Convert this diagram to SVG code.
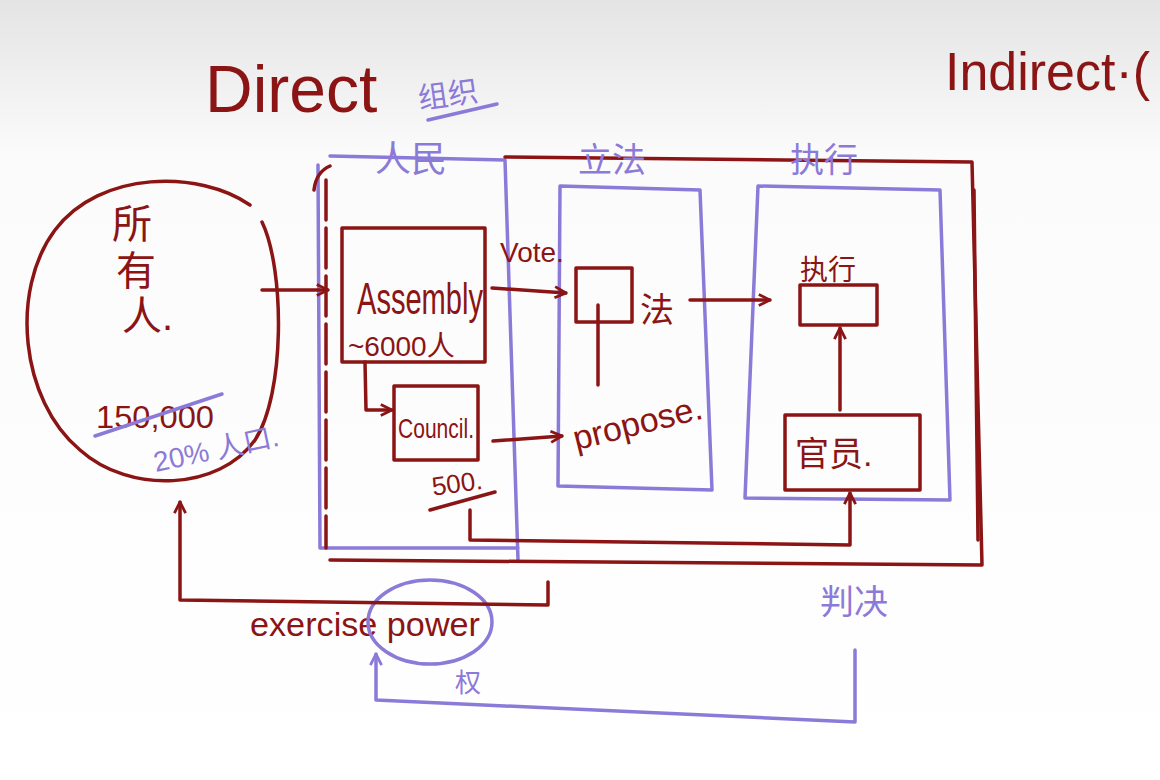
<svg xmlns="http://www.w3.org/2000/svg" width="1160" height="780" viewBox="0 0 1160 780">
<defs>
<linearGradient id="bg" x1="0" y1="0" x2="0" y2="1">
<stop offset="0" stop-color="#e4e4e4"/>
<stop offset="0.2" stop-color="#fbfbfb"/>
<stop offset="1" stop-color="#ffffff"/>
</linearGradient>
<marker id="ap" viewBox="0 0 10 10" refX="9" refY="5" markerWidth="14" markerHeight="14" orient="auto" markerUnits="userSpaceOnUse">
<path d="M1,1 L9,5 L1,9" fill="none" stroke="#8c7ad8" stroke-width="2"/>
</marker>
<marker id="ar2" viewBox="0 0 10 10" refX="9" refY="5" markerWidth="14" markerHeight="14" orient="auto" markerUnits="userSpaceOnUse">
<path d="M1,1 L9,5 L1,9" fill="none" stroke="#8b1414" stroke-width="2"/>
</marker>
</defs>
<style>
.r{fill:none;stroke:#8b1414;stroke-width:3.5;stroke-linecap:round;stroke-linejoin:round}
.p{fill:none;stroke:#8c7ad8;stroke-width:3.5;stroke-linecap:round;stroke-linejoin:round}
.tr{fill:#8b1414;font-family:"Liberation Sans","Noto Sans CJK SC",sans-serif}
.tp{fill:#8c7ad8;font-family:"Liberation Sans","Noto Sans CJK SC",sans-serif}
</style>
<rect width="1160" height="780" fill="url(#bg)"/>

<g id="titles">
<text class="tr" x="205" y="112" font-size="66">Direct</text>
<text class="tp" x="418" y="105" font-size="30" transform="rotate(-8 450 95)">组织</text>
<line class="p" x1="428" y1="120" x2="497" y2="104" stroke-width="2.5"/>
<text class="tr" x="945" y="90" font-size="54" textLength="205" lengthAdjust="spacingAndGlyphs">Indirect·(</text>
</g>

<g id="everyone">
<path class="r" d="M250,205 C200,170 100,170 55,230 C10,290 20,400 80,450 C130,495 220,490 255,440 C285,395 285,270 262,222"/>
<text class="tr" font-size="40" x="112" y="238">所</text>
<text class="tr" font-size="40" x="116" y="285">有</text>
<text class="tr" font-size="40" x="122" y="330">人.</text>
<text class="tr" font-size="32" x="96" y="428" textLength="118" lengthAdjust="spacingAndGlyphs">150,000</text>
<line class="p" x1="95" y1="436" x2="222" y2="394" stroke-width="3"/>
<text class="tp" font-size="28" x="150" y="462" transform="rotate(-12 200 440)">20% 人口.</text>
</g>

<g id="people">
<path class="p" d="M330,156 L505,160 L518,560 M318,165 L320,548 L518,548"/>
<text class="tp" font-size="36" x="375" y="172">人民</text>
<path class="r" stroke-width="2.5" stroke-dasharray="40 8" d="M314,190 Q316,172 330,166 M326,180 L326,548"/>
</g>

<g id="frame">
<path class="r" stroke-width="3" d="M505,157 L972,162 L982,565 L330,560"/>
<path class="r" stroke-width="3" d="M974,190 L978,540"/>
</g>

<g id="assembly">
<rect class="r" x="342" y="228" width="143" height="134"/>
<text class="tr" font-size="44" x="357" y="314" textLength="126" lengthAdjust="spacingAndGlyphs">Assembly</text>
<text class="tr" font-size="28" x="348" y="356">~6000人</text>
</g>

<g id="council">
<rect class="r" x="394" y="386" width="84" height="74"/>
<text class="tr" font-size="28" x="398" y="438" textLength="76" lengthAdjust="spacingAndGlyphs">Council.</text>
<text class="tr" font-size="26" x="432" y="492" transform="rotate(-8 460 485)">500.</text>
<line class="r" x1="430" y1="510" x2="495" y2="492" stroke-width="3"/>
</g>

<g id="legislation">
<path class="p" d="M560,186 L700,190 L712,490 L558,486 Z"/>
<text class="tp" font-size="34" x="578" y="172">立法</text>
<rect class="r" x="576" y="268" width="56" height="54"/>
<text class="tr" font-size="34" x="640" y="322">法</text>
<text class="tr" font-size="34" x="568" y="436" transform="rotate(-14 630 410)">propose.</text>
</g>

<g id="executive">
<path class="p" d="M758,186 L940,190 L950,500 L745,498 Z"/>
<text class="tp" font-size="34" x="790" y="172">执行</text>
<text class="tr" font-size="28" x="800" y="280">执行</text>
<rect class="r" x="800" y="285" width="77" height="40"/>
<rect class="r" x="785" y="415" width="135" height="75"/>
<text class="tr" font-size="34" x="795" y="466">官员.</text>
</g>

<g id="power">
<text class="tr" font-size="34" x="250" y="636" textLength="230" lengthAdjust="spacingAndGlyphs">exercise power</text>
<ellipse class="p" cx="430" cy="622" rx="62" ry="42"/>
<text class="tp" font-size="26" x="455" y="692">权</text>
<text class="tp" font-size="34" x="820" y="614">判决</text>
</g>

<g id="connectors">
<path class="r" d="M262,290 L328,290" marker-end="url(#ar2)"/>
<path class="r" d="M492,288 L566,293" marker-end="url(#ar2)"/>
<text class="tr" font-size="28" x="500" y="262">Vote.</text>
<path class="r" d="M365,362 L366,410 L392,410" marker-end="url(#ar2)"/>
<path class="r" d="M493,441 L562,436" marker-end="url(#ar2)"/>
<path class="r" d="M598,305 L598,385"/>
<path class="r" d="M690,300 L770,300" marker-end="url(#ar2)"/>
<path class="r" d="M840,410 L840,328" marker-end="url(#ar2)"/>
<path class="r" d="M470,510 L470,540 L850,545 L850,493" marker-end="url(#ar2)"/>
<path class="r" d="M548,582 L548,605 L180,600 L180,502" marker-end="url(#ar2)"/>
<path class="p" d="M855,650 L855,722 L376,700 L376,654" marker-end="url(#ap)"/>
</g>
</svg>
